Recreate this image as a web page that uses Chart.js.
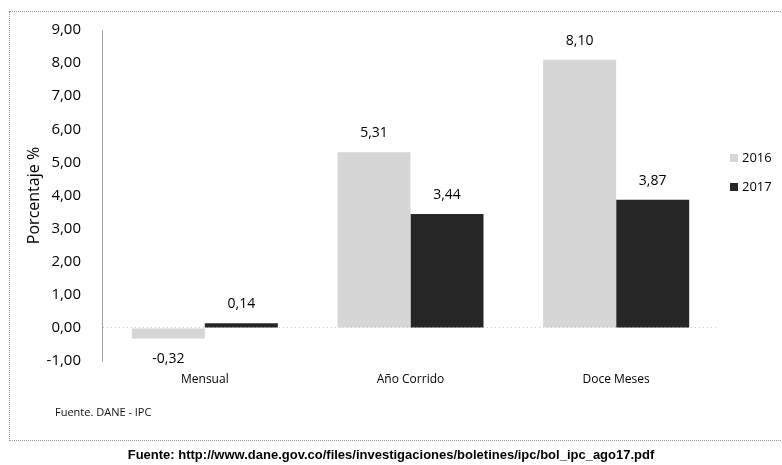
<!DOCTYPE html>
<html>
<head>
<meta charset="utf-8">
<script src="https://cdn.jsdelivr.net/npm/chart.js@4.4.1/dist/chart.umd.min.js"></script>
<style>
  body { margin: 0; background: #fff; }
  #wrap { position: relative; width: 782px; height: 465px; overflow: hidden; }
  #frame { position: absolute; left: 9px; top: 11px; width: 790px; height: 428px; border: 1px dotted #999; }
  #chart { position: absolute; left: 0; top: 0; }
  #nota { position: absolute; left: 55px; top: 404px; font: 11px "Open Sans", sans-serif; color: #111; }
  #fuente { position: absolute; left: 0; width: 782px; top: 447px; text-align: center;
            font: bold 13px "Liberation Sans", Arial, sans-serif; color: #000; }
</style>
</head>
<body>
<div id="wrap">
  <div id="frame"></div>
  <canvas id="chart" width="782" height="465"></canvas>
  <div id="nota">Fuente. DANE - IPC</div>
  <div id="fuente">Fuente: http://www.dane.gov.co/files/investigaciones/boletines/ipc/bol_ipc_ago17.pdf</div>
</div>
<script>
// datos
const categorias = ['Mensual', 'Año Corrido', 'Doce Meses'];
const serie2016 = [-0.32, 5.31, 8.10];
const serie2017 = [0.14, 3.44, 3.87];
const etiquetasSerie = ['2016', '2017'];
const yMin = -1, yMax = 9, yPaso = 1;

const coma = v => v.toFixed(2).replace('.', ',');

// etiquetas de valor encima / debajo de cada barra
const valoresPlugin = {
    id: 'valores',
    afterDatasetsDraw(chart) {
        const ctx = chart.ctx;
        ctx.save();
        ctx.font = '14px "Open Sans", sans-serif';
        ctx.fillStyle = '#000';
        ctx.textAlign = 'center';
        ctx.textBaseline = 'middle';
        chart.data.datasets.forEach((ds, i) => {
            chart.getDatasetMeta(i).data.forEach((bar, j) => {
                const v = ds.data[j];
                const y = v >= 0 ? bar.y - 19 : bar.y + 21;
                ctx.fillText(coma(v), bar.x, y);
            });
        });
        ctx.restore();
    }
};

// leyenda a la derecha
const leyendaPlugin = {
    id: 'leyenda',
    afterDraw(chart) {
        const ctx = chart.ctx;
        ctx.save();
        ctx.font = '13px "Open Sans", sans-serif';
        ctx.textBaseline = 'middle';
        ctx.textAlign = 'left';
        chart.data.datasets.forEach((ds, i) => {
            const y = 158 + i * 29;
            ctx.fillStyle = ds.backgroundColor;
            ctx.fillRect(730, y - 4, 8, 8);
            ctx.fillStyle = '#000';
            ctx.fillText(ds.label, 742, y);
        });
        ctx.restore();
    }
};

new Chart(document.getElementById('chart'), {
    type: 'bar',
    data: {
        labels: categorias,
        datasets: [
            { label: etiquetasSerie[0], data: serie2016, backgroundColor: '#d6d6d6' },
            { label: etiquetasSerie[1], data: serie2017, backgroundColor: '#262626' }
        ]
    },
    options: {
        responsive: false,
        animation: false,
        devicePixelRatio: 1,
        layout: { padding: { top: 30, left: 0, right: 63, bottom: 0 } },
        datasets: { bar: { categoryPercentage: 0.71, barPercentage: 1.0 } },
        plugins: { legend: { display: false }, tooltip: { enabled: false } },
        scales: {
            x: {
                grid: { display: false, drawTicks: false },
                border: { display: false },
                ticks: { color: '#000', font: { family: 'Open Sans', size: 12 }, padding: 11 },
                afterFit(scale) { scale.height = 104; }
            },
            y: {
                min: yMin,
                max: yMax,
                ticks: {
                    stepSize: yPaso,
                    color: '#000',
                    font: { family: 'Open Sans', size: 15 },
                    padding: 21,
                    callback: v => coma(v)
                },
                grid: {
                    drawTicks: false,
                    color: c => c.tick && c.tick.value === 0 ? '#c8c8c8' : 'rgba(0,0,0,0)',
                    dash: [2, 3]
                },
                border: { display: true, color: '#a0a0a0', dash: [1, 3] },
                title: {
                    display: true,
                    text: 'Porcentaje %',
                    color: '#000',
                    font: { family: 'Open Sans', size: 16 },
                    padding: { top: 25, bottom: 0 }
                },
                afterFit(scale) { scale.width = 102; }
            }
        }
    },
    plugins: [valoresPlugin, leyendaPlugin]
});
</script>
</body>
</html>
